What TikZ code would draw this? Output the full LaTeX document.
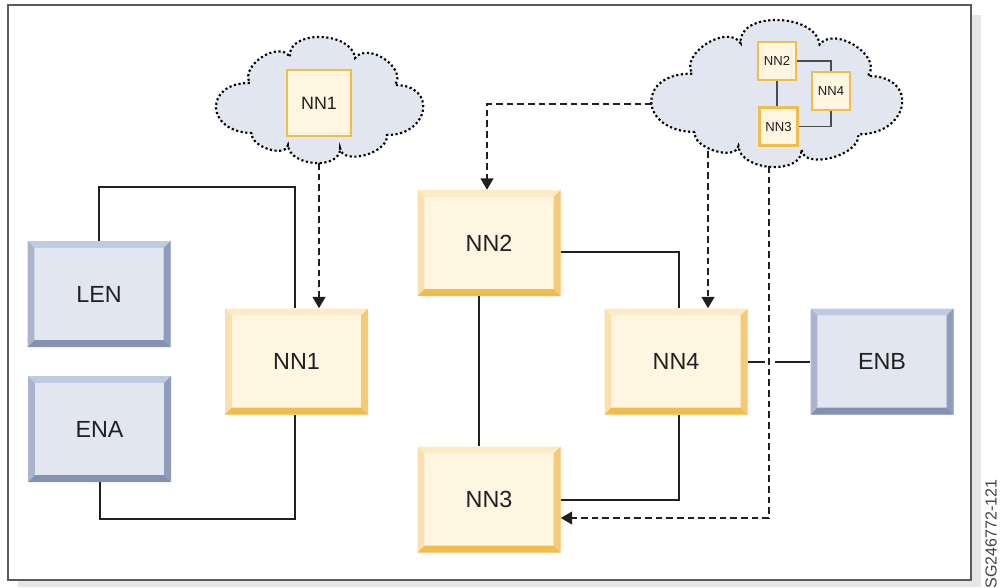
\documentclass[tikz,border=0pt]{standalone}
\usepackage{fontspec}
\setmainfont{Liberation Sans}
\usetikzlibrary{calc,arrows.meta}

\definecolor{yface}{HTML}{FEF6E1}
\definecolor{ytop}{HTML}{FDEBC8}
\definecolor{yleft}{HTML}{FBE0AE}
\definecolor{yright}{HTML}{F5C978}
\definecolor{ybot}{HTML}{F0BC4C}
\definecolor{bface}{HTML}{E1E6F1}
\definecolor{btop}{HTML}{BFCBE0}
\definecolor{bleft}{HTML}{A9B5CF}
\definecolor{bright}{HTML}{909CBB}
\definecolor{bbot}{HTML}{8591B0}
\definecolor{cloudfill}{HTML}{E1E6F1}
\definecolor{ink}{HTML}{231F20}
\definecolor{framecol}{HTML}{5A5A5A}
\definecolor{shadowcol}{HTML}{E6E6E6}
\definecolor{sborder}{HTML}{F0BC4A}
\definecolor{sline}{HTML}{4D4D4D}

\newcommand\bv{5.2pt}
\newcommand\bmp[3]{.. controls ($0.3333*(#1)+1.3333*(#2)-0.6667*(#3)$) and ($0.3333*(#3)+1.3333*(#2)-0.6667*(#1)$) .. (#3)}
\newcommand\cloudpath{(0.178,0.762)
 \bmp{0.178,0.762}{0.005,0.56}{0.168,0.365}
 \bmp{0.168,0.365}{0.226,0.159}{0.36,0.159}
 \bmp{0.36,0.159}{0.505,0.0}{0.673,0.167}
 \bmp{0.673,0.167}{0.815,0.175}{0.865,0.381}
 \bmp{0.865,0.381}{1.0,0.579}{0.827,0.778}
 \bmp{0.827,0.778}{0.721,0.937}{0.601,0.881}
 \bmp{0.601,0.881}{0.481,1.0}{0.351,0.857}
 \bmp{0.351,0.857}{0.255,0.889}{0.178,0.762} -- cycle}

\tikzset{
 bevel/.style n args={5}{rectangle, inner sep=0pt, minimum width=107.25pt, minimum height=79.5pt,
  fill=#1, text=ink, font=\fontsize{17.5}{20}\selectfont,
  path picture={
   \fill[#2] (path picture bounding box.north west) -- (path picture bounding box.north east)
     -- ([shift={(-\bv,-\bv)}]path picture bounding box.north east)
     -- ([shift={(\bv,-\bv)}]path picture bounding box.north west) -- cycle;
   \fill[#3] (path picture bounding box.north west) -- ([shift={(\bv,-\bv)}]path picture bounding box.north west)
     -- ([shift={(\bv,\bv)}]path picture bounding box.south west)
     -- (path picture bounding box.south west) -- cycle;
   \fill[#4] (path picture bounding box.north east) -- (path picture bounding box.south east)
     -- ([shift={(-\bv,\bv)}]path picture bounding box.south east)
     -- ([shift={(-\bv,-\bv)}]path picture bounding box.north east) -- cycle;
   \fill[#5] (path picture bounding box.south west) -- (path picture bounding box.south east)
     -- ([shift={(-\bv,\bv)}]path picture bounding box.south east)
     -- ([shift={(\bv,\bv)}]path picture bounding box.south west) -- cycle;
  }},
 nnbox/.style={bevel={yface}{ytop}{yleft}{yright}{ybot}},
 enbox/.style={bevel={bface}{btop}{bleft}{bright}{bbot}},
 conn/.style={draw=ink, line width=1.5pt},
 dconn/.style={conn, dash pattern=on 5pt off 3pt, -{Triangle[width=9.5pt,length=8.5pt]}},
 cloudsty/.style={fill=cloudfill, draw=black, line width=1.6pt, dash pattern=on 1.6pt off 1.9pt},
 sbox/.style={draw=sborder, line width=1.8pt, fill=yface, inner sep=0pt, text=ink},
 sconn/.style={draw=sline, line width=1.2pt},
 holder/.style={inner sep=0pt, outer sep=0pt}
}

\begin{document}
\begin{tikzpicture}[x=0.75pt, y=-0.75pt]
\useasboundingbox (0,0) rectangle (1005,587);
% frame and shadow
\fill[shadowcol] (18,15) rectangle (981,587);
\filldraw[fill=white, draw=framecol, line width=1.4pt] (8,5) rectangle (971,580);
\node[rotate=90, font=\fontsize{12}{14}\selectfont, text=ink!85] (code) at (991,534) {SG246772-121};

% clouds
\node[holder, minimum width=156pt, minimum height=94.5pt] (cloud1) at (319,100) {};
\begin{scope}[shift={(215,37)}, xscale=208, yscale=126]
 \path[cloudsty] \cloudpath;
\end{scope}
\node[sbox, minimum width=48pt, minimum height=49.5pt, font=\fontsize{13.4}{15}\selectfont] (sNN1) at (319,103) {NN1};

\node[holder, minimum width=189pt, minimum height=110.25pt] (cloud2) at (776,93.5) {};
\begin{scope}[shift={(650,20)}, xscale=252, yscale=147]
 \path[cloudsty] \cloudpath;
\end{scope}
\tikzset{sbox2/.style={sbox, line width=1.6pt, minimum width=28.5pt, minimum height=28.5pt, font=\fontsize{9.8}{11}\selectfont}}
\node[sbox2] (sNN2) at (777,61) {NN2};
\node[sbox2] (sNN4) at (831,91) {NN4};
\node[sbox2] (sNN3) at (778.5,126.5) {NN3};
\draw[sconn] (sNN2.east) -| (sNN4.north);
\draw[sconn] (sNN2.south) -- (sNN2.south |- sNN3.north);
\draw[sconn] (sNN3.east) -| (sNN4.south);

% main boxes
\node[enbox] (LEN) at (99,294) {LEN};
\node[enbox] (ENA) at (99.5,429) {ENA};
\node[nnbox] (NN1) at (296.5,361.5) {NN1};
\node[nnbox] (NN2) at (489,243) {NN2};
\node[nnbox] (NN3) at (489,499.5) {NN3};
\node[nnbox] (NN4) at (676,361.5) {NN4};
\node[enbox] (ENB) at (882,361.5) {ENB};

% solid connectors
\coordinate (k1) at (200,187);
\coordinate (k2) at (200,519);
\draw[conn] (LEN.north) |- (k1) -| ([xshift=-1pt]NN1.north);
\draw[conn] (ENA.south) |- (k2) -| ([xshift=-1pt]NN1.south);
\draw[conn] ([yshift=-6.75pt]NN2.east) -| ([xshift=2pt]NN4.north);
\draw[conn] ([xshift=-7.5pt]NN2.south) -- ([xshift=-7.5pt]NN3.north);
\draw[conn] ([xshift=2pt]NN4.south) |- (NN3.east);
\coordinate (g1) at (765,361.5);
\coordinate (g2) at (775,361.5);
\draw[conn] (NN4.east) -- (g1);
\draw[conn] (g2) -- (ENB.west);

% dashed connectors
\draw[dconn] (cloud1.south) -- (cloud1.south |- NN1.north);
\coordinate (c2w) at (652,104);
\draw[dconn] (c2w) -| ([xshift=-1.5pt]NN2.north);
\coordinate (c2b1) at (708,151);
\draw[dconn] (c2b1) -- (c2b1 |- NN4.north);
\coordinate (c2b2) at (769,166);
\coordinate (c2e) at (769,518);
\draw[dconn] (c2b2) -- (c2e) -- (c2e -| NN3.east);
\end{tikzpicture}
\end{document}
